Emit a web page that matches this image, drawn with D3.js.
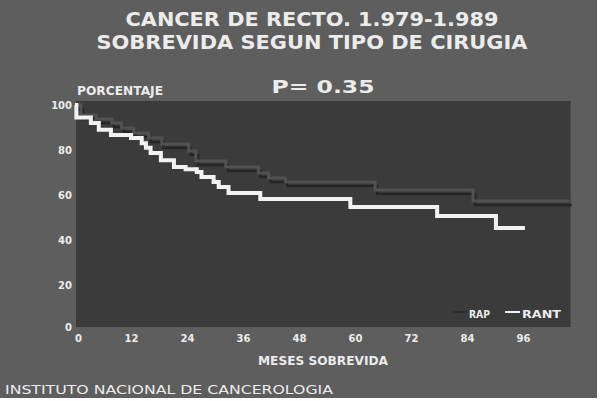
<html>
    <head>
        <script src="https://d3js.org/d3.v7.min.js" charset="utf-8"></script>
        <style>
            body { margin: 0; background: #ffffff; }
            text { font-family: "DejaVu Sans", sans-serif; font-weight: bold; fill: #ececec; }
        </style>
    </head>

    <body>
        <div id="chartcontainer"></div>

        <script type="text/javascript">
            // data
            var xTicks = [0, 12, 24, 36, 48, 60, 72, 84, 96];
            var yTicks = [0, 20, 40, 60, 80, 100];

            var rapMonths = [0, 1.3, 4.5, 7.9, 10, 12.6, 15.8, 18.6, 24.4, 25.9, 32.3, 39.3, 41.5, 45.1, 64.3, 85.3, 106];
            var rapSurv   = [100, 95.6, 93.8, 92, 89.8, 87.6, 85.3, 82.7, 79.6, 75.1, 72.4, 69.8, 67.6, 65.8, 62.2, 57.3, 57.3];

            var rantMonths = [0, 0.3, 3.4, 5.1, 7.7, 12, 14.3, 15.2, 16.2, 18.4, 21.2, 23.7, 26.1, 27.1, 29.7, 30.8, 32.9, 39.7, 59, 77.6, 90.2, 96.4];
            var rantSurv   = [100, 94.5, 92, 89, 86.7, 85.3, 83, 81, 78.7, 75.5, 72.4, 71.5, 70.2, 68, 65.8, 63.6, 60.9, 58.2, 54.7, 50.7, 45.3, 45.3];

            var svg = d3.select("#chartcontainer").append("svg").attr("width", 600).attr("height", 401);

            var x = d3.scaleLinear().domain([0, 96]).range([75, 523]);
            var y = d3.scaleLinear().domain([0, 100]).range([330, 105]);

            // slide background and plot panel
            svg.append("rect").attr("x", 0).attr("y", 0).attr("width", 597).attr("height", 398).attr("fill", "#5e5e5e");
            svg.append("rect")
                .attr("x", x(0) + 1).attr("y", y(101.8))
                .attr("width", x(106.2) - x(0) - 1).attr("height", y(1.3) - y(101.8))
                .attr("fill", "#3b3b3b");

            // titles
            svg.append("text").attr("x", 312).attr("y", 26).attr("text-anchor", "middle").style("font-size", "19px")
                .attr("textLength", 373).attr("lengthAdjust", "spacingAndGlyphs").text("CANCER DE RECTO. 1.979-1.989");
            svg.append("text").attr("x", 312).attr("y", 49).attr("text-anchor", "middle").style("font-size", "19px")
                .attr("textLength", 431).attr("lengthAdjust", "spacingAndGlyphs").text("SOBREVIDA SEGUN TIPO DE CIRUGIA");
            svg.append("text").attr("x", 323).attr("y", 93).attr("text-anchor", "middle").style("font-size", "18px")
                .attr("textLength", 103).attr("lengthAdjust", "spacingAndGlyphs").text("P=  0.35");
            svg.append("text").attr("x", 77).attr("y", 95).style("font-size", "12px")
                .attr("textLength", 86).attr("lengthAdjust", "spacingAndGlyphs").text("PORCENTAJE");

            // axes (labels only, no lines)
            var yAxis = svg.append("g").attr("transform", "translate(72,0)")
                .call(d3.axisLeft(y).tickValues(yTicks).tickSize(0).tickPadding(0));
            yAxis.select(".domain").remove();
            yAxis.selectAll("text").style("font-size", "10px").attr("dy", "0.35em")
                .attr("transform", function(d) { return d == 0 ? "translate(0,-3)" : null; });

            var xAxis = svg.append("g").attr("transform", "translate(0,335)")
                .call(d3.axisBottom(x).tickValues(xTicks).tickSize(0).tickPadding(0));
            xAxis.select(".domain").remove();
            xAxis.selectAll("text").style("font-size", "10px").attr("dy", "0.71em")
                .attr("transform", function(d) { return d == 0 ? "translate(3,0)" : null; });

            svg.append("text").attr("x", 323).attr("y", 365).attr("text-anchor", "middle").style("font-size", "12px")
                .attr("textLength", 130).attr("lengthAdjust", "spacingAndGlyphs").text("MESES SOBREVIDA");
            svg.append("text").attr("x", 5).attr("y", 394).style("font-size", "13px").style("font-weight", "normal")
                .attr("textLength", 328).attr("lengthAdjust", "spacingAndGlyphs").text("INSTITUTO NACIONAL DE CANCEROLOGIA");

            // survival curves
            var line = d3.line().curve(d3.curveStepAfter)
                .x(function(d) { return x(d[0]); })
                .y(function(d) { return y(d[1]); });

            var rap = d3.zip(rapMonths, rapSurv);
            var rant = d3.zip(rantMonths, rantSurv);

            // RAP drawn as grey line with dark drop shadow, as on the slide
            svg.append("path").datum(rap).attr("d", line).attr("fill", "none")
                .attr("stroke", "#252525").attr("stroke-width", 2.5).attr("transform", "translate(2,4)");
            svg.append("path").datum(rap).attr("d", line).attr("fill", "none")
                .attr("stroke", "#515151").attr("stroke-width", 3);
            svg.append("path").datum(rant).attr("d", line).attr("fill", "none")
                .attr("stroke", "#f2f2f2").attr("stroke-width", 4);

            // legend
            svg.append("line").attr("x1", 453).attr("x2", 467).attr("y1", 312).attr("y2", 312)
                .attr("stroke", "#2e2e2e").attr("stroke-width", 2);
            svg.append("text").attr("x", 469).attr("y", 318).style("font-size", "11px")
                .attr("textLength", 21).attr("lengthAdjust", "spacingAndGlyphs").text("RAP");
            svg.append("line").attr("x1", 505).attr("x2", 520).attr("y1", 312).attr("y2", 312)
                .attr("stroke", "#f2f2f2").attr("stroke-width", 2);
            svg.append("text").attr("x", 522).attr("y", 318).style("font-size", "11px")
                .attr("textLength", 39).attr("lengthAdjust", "spacingAndGlyphs").text("RANT");
        </script>
    </body>
</html>
